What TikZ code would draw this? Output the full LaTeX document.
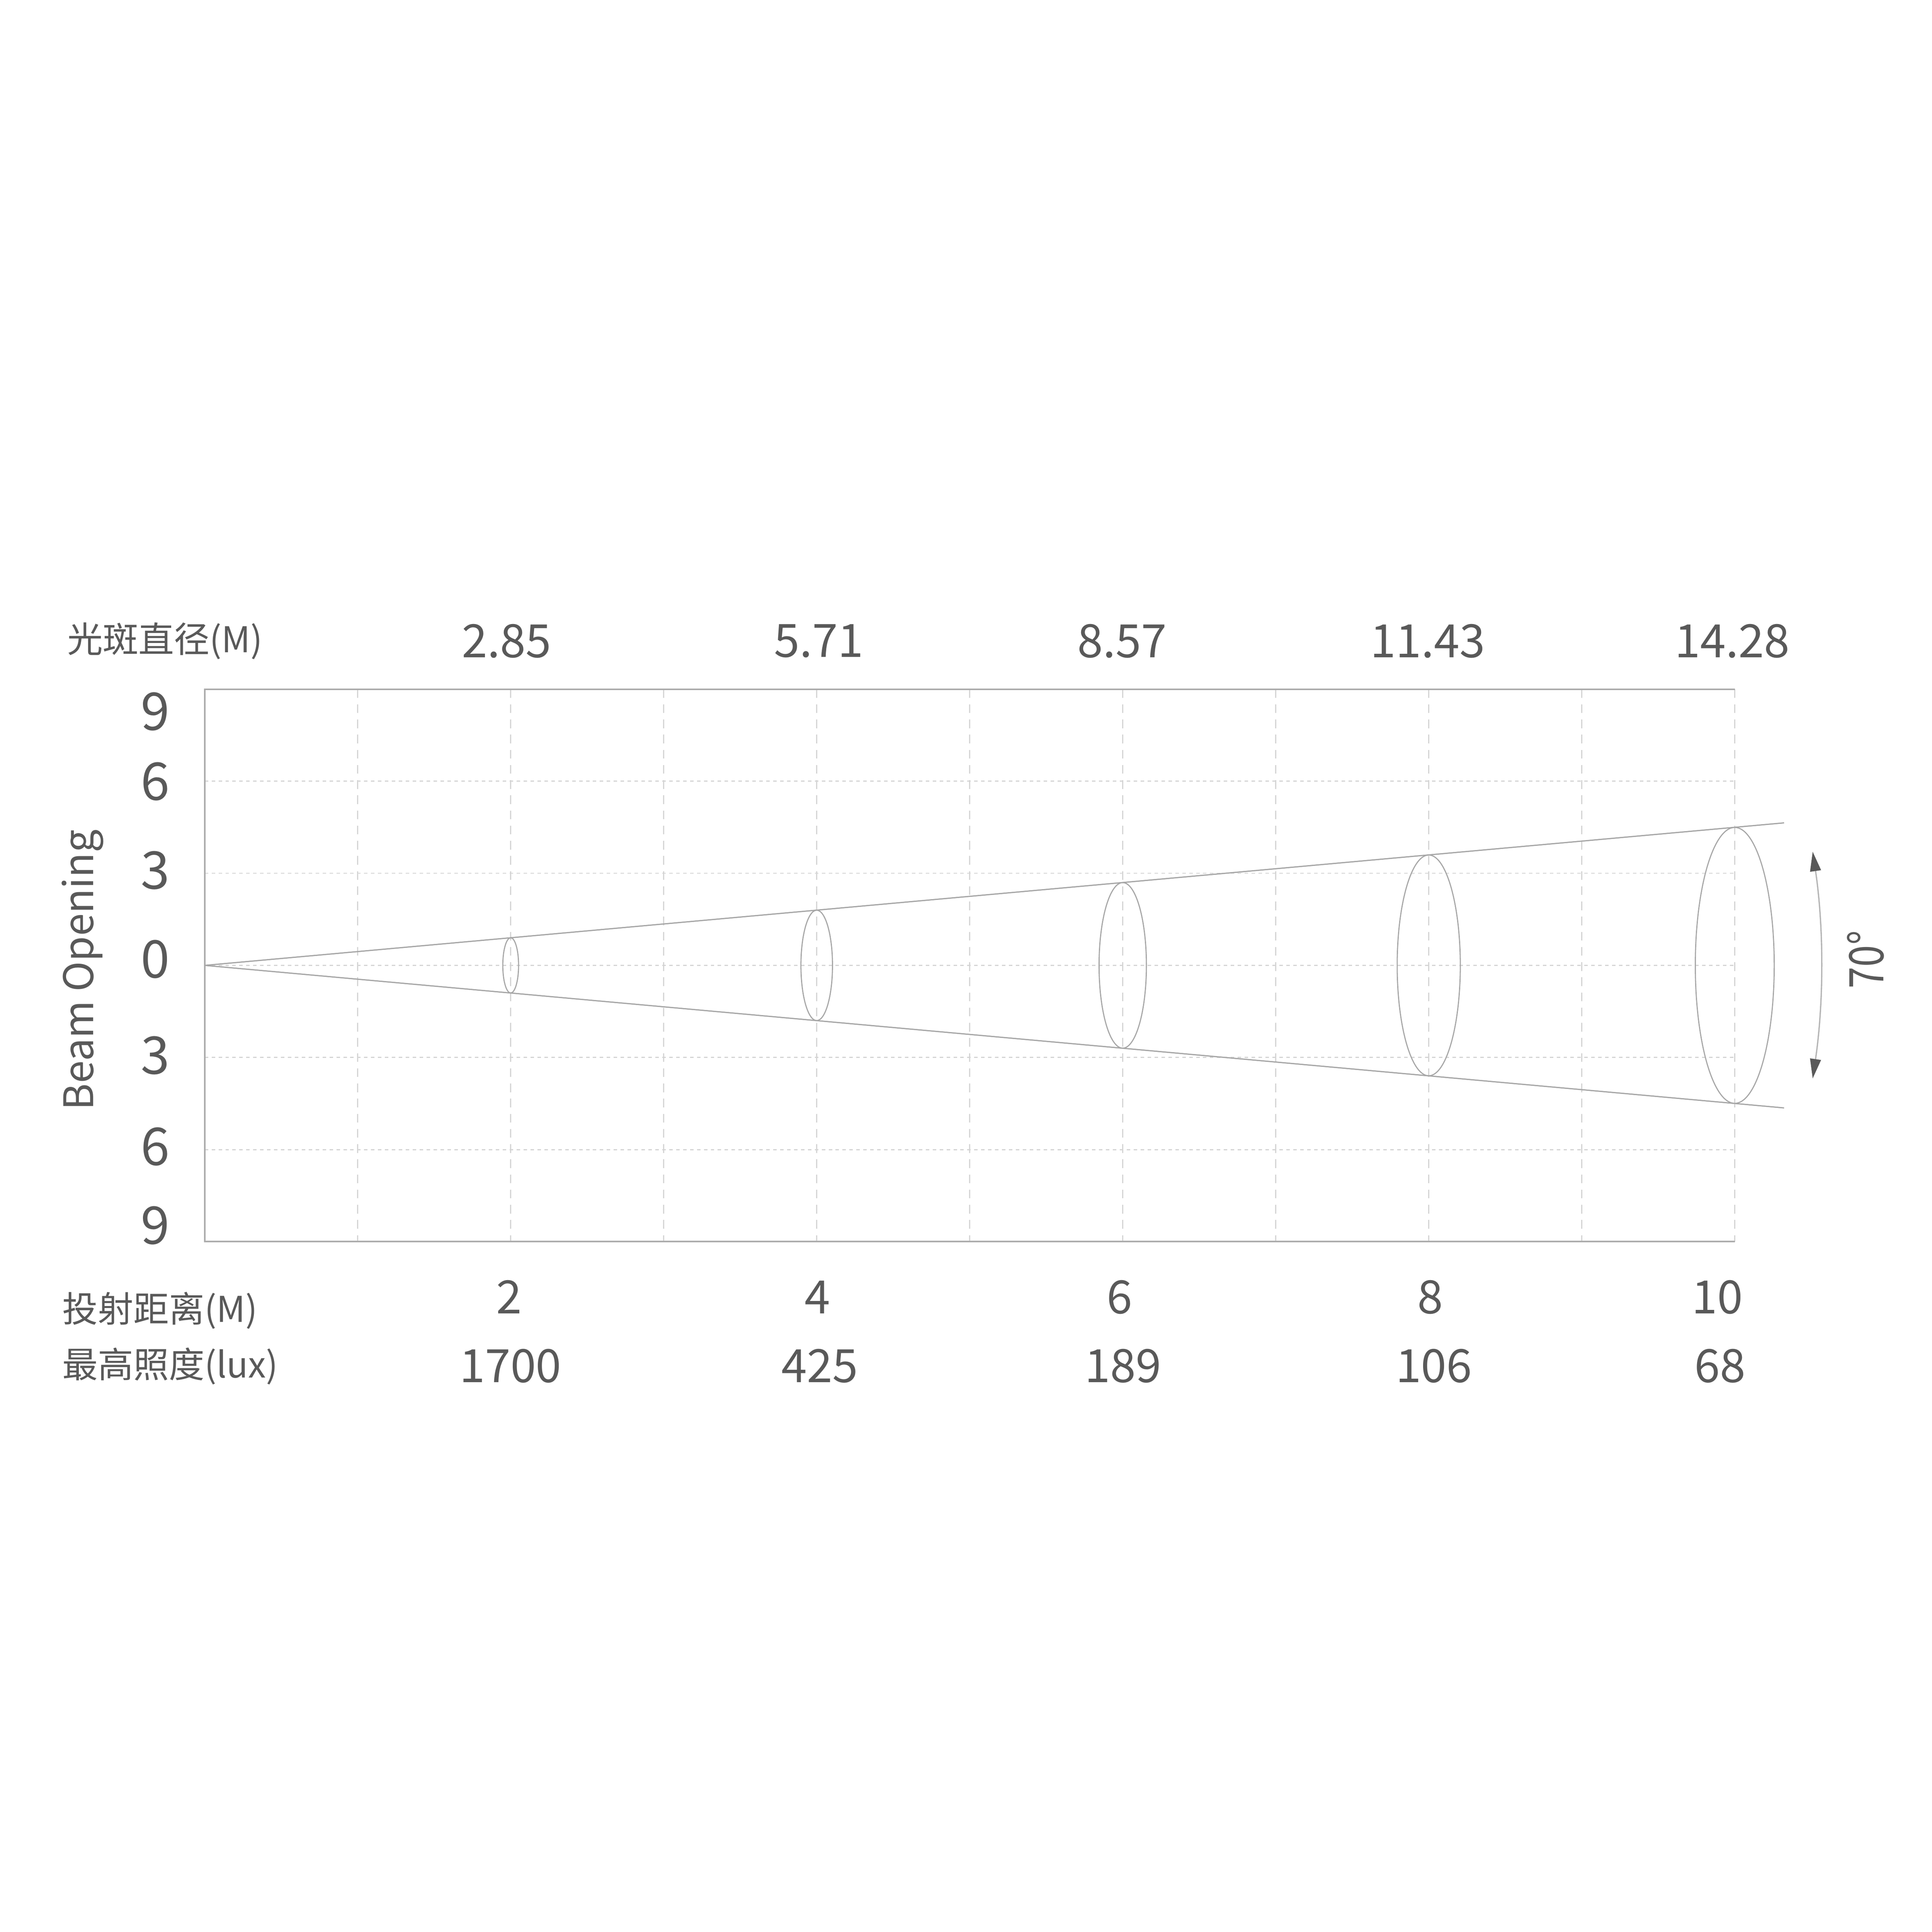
\documentclass[tikz,border=0pt]{standalone}
\usepackage{fontspec}
\setmainfont{Noto Sans CJK SC}
\usetikzlibrary{arrows.meta}
\definecolor{txt}{HTML}{595959}
\definecolor{grd}{HTML}{D4D4D4}
\definecolor{frm}{HTML}{ABABAB}
\definecolor{cone}{HTML}{A6A6A6}
\definecolor{arcl}{HTML}{B5B5B5}
\begin{document}
\begin{tikzpicture}[x=0.1mm,y=-0.1mm,
  num/.style={text=txt,inner sep=0pt,font=\fontsize{10.6}{12}\selectfont},
  ynum/.style={text=txt,inner sep=0pt,font=\fontsize{12}{14}\selectfont},
  cjk/.style={text=txt,inner sep=0pt,anchor=west,font=\fontsize{8.2}{10}\selectfont},
  gridv/.style={draw=grd,line width=0.25pt,dash pattern=on 2pt off 1.5pt},
  gridh/.style={draw=grd,line width=0.25pt,dash pattern=on 0.8pt off 0.8pt},
  frame/.style={draw=frm,line width=0.35pt},
  conel/.style={draw=cone,line width=0.28pt},
  spot/.style={draw=cone,line width=0.25pt},
  angarrow/.style={draw=arcl,line width=0.3pt,
    {Triangle[length=4.5pt,width=2.5pt,color=txt]}-{Triangle[length=4.5pt,width=2.5pt,color=txt]}}
]
\useasboundingbox (0,0) rectangle (1567,1567);
% grid
\foreach \d in {1,...,10}{
  \draw[gridv] ({166+124.1*\d},559) -- ({166+124.1*\d},1007);
}
\foreach \v in {-6,-3,0,3,6}{
  \draw[gridh] (166,{783-24.9*\v}) -- (1407,{783-24.9*\v});
}
% frame
\draw[frame] (1407,559) -- (166,559) -- (166,1007) -- (1407,1007);
% cone
\coordinate (o) at (166,783);
\coordinate (ct) at (1447,667.4);
\coordinate (cb) at (1447,898.6);
\draw[conel] (o) -- (ct);
\draw[conel] (o) -- (cb);
% spots
\foreach \d in {2,4,6,8,10}{
  \draw[spot] ({166+124.1*\d},783) ellipse ({3.2*\d} and {11.19*\d});
}
% angle arrow
\coordinate (aa) at (1470.2,690.8);
\coordinate (ab) at (1470.2,874.7);
\draw[angarrow] (aa) .. controls (1479.3,752) and (1479.3,813) .. (ab);
\node[text=txt,inner sep=0pt,rotate=90,font=\fontsize{11}{13}\selectfont] (ang) at (1513,778.3) {\scalebox{0.82}[1]{70°}};
% y axis label
\node[text=txt,inner sep=0pt,rotate=90,font=\fontsize{9.4}{11}\selectfont] (beam) at (67,786.7) {Beam Opening};
% y numbers
\node[ynum] (y9a) at (126,577) {9};
\node[ynum] (y6a) at (126,634) {6};
\node[ynum] (y3a) at (126,706) {3};
\node[ynum] (y0) at (126,778) {0};
\node[ynum] (y3b) at (126,856) {3};
\node[ynum] (y6b) at (126,930) {6};
\node[ynum] (y9b) at (126,994) {9};
% top row
\node[cjk] (tl) at (54,520) {光斑直径(M)};
\node[num] (t1) at (411,520) {2.85};
\node[num] (t2) at (664,520) {5.71};
\node[num] (t3) at (910,520) {8.57};
\node[num] (t4) at (1158,520) {11.43};
\node[num] (t5) at (1405,520) {14.28};
% bottom rows
\node[cjk] (bl1) at (50,1063) {投射距离(M)};
\node[num] (b1) at (413,1052) {2};
\node[num] (b2) at (663,1052) {4};
\node[num] (b3) at (908,1052) {6};
\node[num] (b4) at (1160,1052) {8};
\node[num] (b5) at (1393,1052) {10};
\node[cjk] (bl2) at (50,1108) {最高照度(lux)};
\node[num] (c1) at (414,1108) {1700};
\node[num] (c2) at (665,1108) {425};
\node[num] (c3) at (911,1108) {189};
\node[num] (c4) at (1163,1108) {106};
\node[num] (c5) at (1395,1108) {68};
\end{tikzpicture}
\end{document}
